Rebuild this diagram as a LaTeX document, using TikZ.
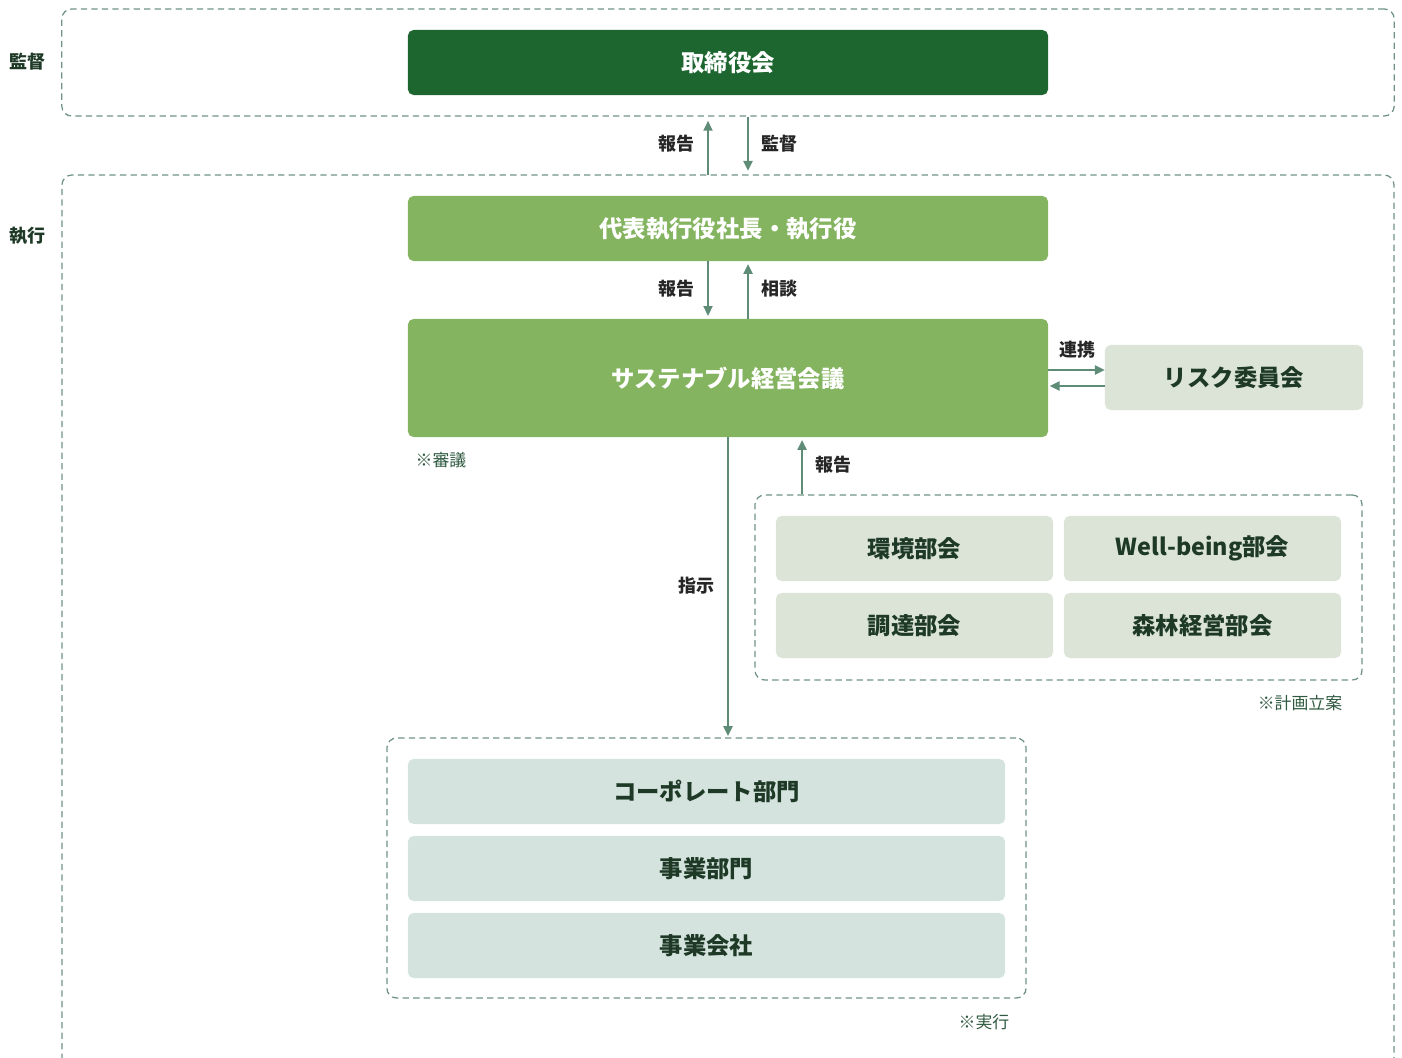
\documentclass[tikz,border=0pt]{standalone}
\usepackage{fontspec}
\setmainfont{Noto Sans CJK JP}
\usetikzlibrary{arrows.meta,calc}
\definecolor{darkg}{HTML}{1D6630}
\definecolor{midg}{HTML}{84B460}
\definecolor{pale}{HTML}{DCE4D8}
\definecolor{bluish}{HTML}{D4E3DD}
\definecolor{txt}{HTML}{1E3A27}
\definecolor{linec}{HTML}{5E8C77}
\definecolor{dashc}{HTML}{6E9385}
\definecolor{notec}{HTML}{2F5A40}

\begin{document}
\begin{tikzpicture}[x=0.025cm, y=-0.025cm,
    box/.style={rectangle, rounded corners=4pt, inner sep=0pt, font=\bfseries\fontsize{16.6}{18}\selectfont},
    group/.style={rectangle, rounded corners=7pt, inner sep=0pt, draw=dashc, line width=0.9pt, dash pattern=on 4.5pt off 3pt},
    arr/.style={draw=linec, line width=1.3pt, -{Triangle[length=7pt,width=6.5pt]}},
    lbl/.style={font=\bfseries\fontsize{12.8}{14}\selectfont, text=black!85},
    side/.style={font=\bfseries\fontsize{12.8}{14}\selectfont, text=txt},
    note/.style={font=\fontsize{12}{13}\selectfont, text=notec}]
    \useasboundingbox (0,0) rectangle (1402,1058);
    % Groups
    \node[group, minimum width=33.3cm, minimum height=2.675cm] (sup) at (728,62.5) {};
    \draw[group] (62,1060) -- (62,175) -- (1394,175) -- (1394,1060);
    \coordinate (exetop) at (728,175);
    \node[side] (supl) at (27,62) {監督};
    \node[side] (exel) at (27,236) {執行};
    % Board and executives
    \node[box, fill=darkg, text=white, minimum width=16cm, minimum height=1.625cm] (board) at (728,62.5) {取締役会};
    \node[box, fill=midg, text=white, minimum width=16cm, minimum height=1.625cm] (ceo) at (728,228.5) {代表執行役社長・執行役};
    \node[box, fill=midg, text=white, minimum width=16cm, minimum height=2.95cm] (sust) at (728,378) {サステナブル経営会議};
    \node[box, fill=pale, text=txt, minimum width=6.45cm, minimum height=1.625cm] (risk) at (1234,377.5) {リスク委員会};
    % Committees
    \node[group, minimum width=15.175cm, minimum height=4.625cm] (cmt) at (1058.5,587.5) {};
    \node[box, fill=pale, text=txt, minimum width=6.925cm, minimum height=1.625cm] (env) at (914.5,548.5) {環境部会};
    \node[box, fill=pale, text=txt, minimum width=6.925cm, minimum height=1.625cm] (wb) at (1202.5,548.5) {Well-being部会};
    \node[box, fill=pale, text=txt, minimum width=6.925cm, minimum height=1.625cm] (proc) at (914.5,625.5) {調達部会};
    \node[box, fill=pale, text=txt, minimum width=6.925cm, minimum height=1.625cm] (forest) at (1202.5,625.5) {森林経営部会};
    % Departments
    \node[group, minimum width=15.975cm, minimum height=6.5cm] (dept) at (706.5,868) {};
    \node[box, fill=bluish, text=txt, minimum width=14.925cm, minimum height=1.625cm] (corp) at (706.5,791.5) {コーポレート部門};
    \node[box, fill=bluish, text=txt, minimum width=14.925cm, minimum height=1.625cm] (biz) at (706.5,868.5) {事業部門};
    \node[box, fill=bluish, text=txt, minimum width=14.925cm, minimum height=1.625cm] (comp) at (706.5,945.5) {事業会社};
    % Arrows
    \draw[arr, shorten >=3pt] ([xshift=-0.5cm]exetop) -- ([xshift=-0.5cm]sup.south);
    \draw[arr, shorten >=3pt] ([xshift=0.5cm]sup.south) -- ([xshift=0.5cm]exetop);
    \draw[arr, shorten >=2pt] ([xshift=-0.5cm]ceo.south) -- ([xshift=-0.5cm]sust.north);
    \draw[arr, shorten >=2pt] ([xshift=0.5cm]sust.north) -- ([xshift=0.5cm]ceo.south);
    \draw[arr] ([yshift=0.2cm]sust.east) -- ([yshift=0.2cm]sust.east -| risk.west);
    \draw[arr, shorten >=1pt] ([yshift=-0.2cm]sust.east -| risk.west) -- ([yshift=-0.2cm]sust.east);
    \draw[arr, shorten >=2pt] ([xshift=1.85cm]sust.south |- cmt.north) -- ([xshift=1.85cm]sust.south);
    \draw[arr, shorten >=1pt] (sust.south) -- (sust.south |- dept.north);
    % Labels
    \node[lbl] (l1) at (676,144) {報告};
    \node[lbl] (l2) at (779,144) {監督};
    \node[lbl] (l3) at (676,289) {報告};
    \node[lbl] (l4) at (779,289) {相談};
    \node[lbl] (l5) at (1077,350) {連携};
    \node[lbl] (l6) at (833,465) {報告};
    \node[lbl] (l7) at (696,586) {指示};
    \node[note] (n1) at (441,460) {※審議};
    \node[note] (n2) at (1300,703) {※計画立案};
    \node[note] (n3) at (984,1022) {※実行};
\end{tikzpicture}
\end{document}
